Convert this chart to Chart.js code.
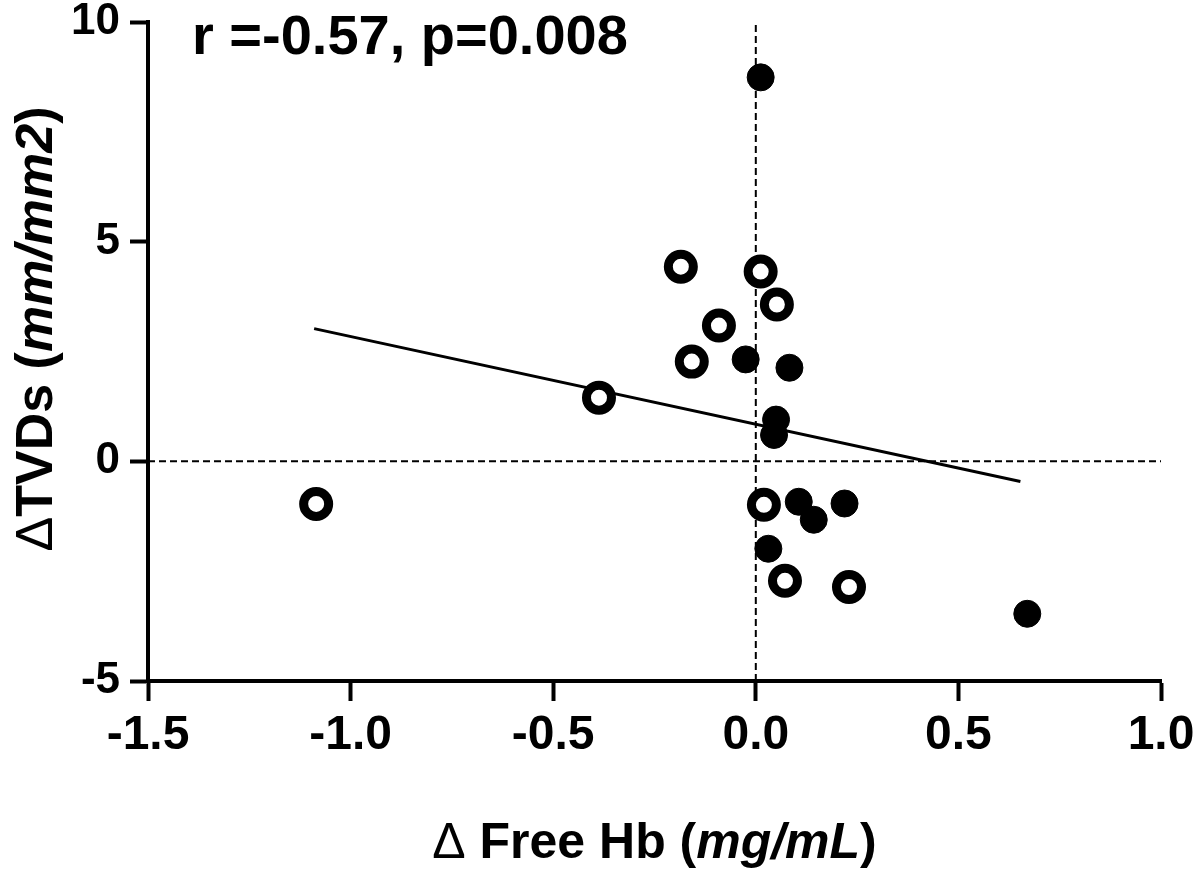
<!DOCTYPE html>
<html>
<head>
<meta charset="utf-8">
<script src="https://cdn.jsdelivr.net/npm/chart.js@4/dist/chart.umd.min.js"></script>
<style>
  body { margin: 0; background: #fff; }
  #wrap { width: 1200px; height: 873px; }
</style>
</head>
<body>
<div id="wrap"><canvas id="scatter" width="1200" height="873"></canvas></div>
<script>
// open circles
const openX = [-1.085, -0.387, -0.185, -0.158, -0.091, 0.012, 0.052, 0.02, 0.072, 0.23];
const openY = [-0.97, 1.45, 4.43, 2.27, 3.09, 4.32, 3.57, -0.99, -2.72, -2.86];
// filled circles
const filledX = [0.012, -0.025, 0.083, 0.05, 0.045, 0.106, 0.143, 0.219, 0.031, 0.67];
const filledY = [8.74, 2.32, 2.13, 0.95, 0.6, -0.92, -1.33, -0.96, -1.99, -3.47];
// regression line ends
const fitX = [-1.09, 0.653];
const fitY = [3.02, -0.46];

const xTicks = [-1.5, -1.0, -0.5, 0.0, 0.5, 1.0];
const yTicks = [-5, 0, 5, 10];
const statText = 'r =-0.57, p=0.008';

const toPts = (xs, ys) => xs.map((x, i) => ({ x: x, y: ys[i] }));

const fontName = '"Liberation Sans", Arial, sans-serif';

// texts with italic units, drawn on the canvas
const labelPlugin = {
    id: 'labels',
    afterDraw(chart) {
        const ctx = chart.ctx;
        const area = chart.chartArea;
        ctx.save();
        ctx.fillStyle = '#000';
        ctx.textBaseline = 'alphabetic';

        // stat text
        ctx.font = 'bold 56px ' + fontName;
        ctx.textAlign = 'left';
        ctx.fillText(statText, 192, 54);

        // x axis title
        const xParts = [
            ['Δ ', '50px '],
            ['Free Hb (', 'bold 50px '],
            ['mg/mL', 'italic bold 50px '],
            [')', 'bold 50px ']
        ];
        drawParts(ctx, xParts, (area.left + area.right) / 2, 858);

        // y axis title
        ctx.translate(52, 329);
        ctx.rotate(-Math.PI / 2);
        const yParts = [
            ['Δ', '52px '],
            ['TVDs (', 'bold 52px '],
            ['mm/mm2', 'italic bold 52px '],
            [')', 'bold 52px ']
        ];
        drawParts(ctx, yParts, 0, 0);
        ctx.restore();
    }
};

function drawParts(ctx, parts, cx, baseY) {
    let total = 0;
    parts.forEach(p => { ctx.font = p[1] + fontName; total += ctx.measureText(p[0]).width; });
    let x = cx - total / 2;
    ctx.textAlign = 'left';
    parts.forEach(p => {
        ctx.font = p[1] + fontName;
        ctx.fillText(p[0], x, baseY);
        x += ctx.measureText(p[0]).width;
    });
}

const ctx = document.getElementById('scatter').getContext('2d');

new Chart(ctx, {
    type: 'scatter',
    data: {
        datasets: [
            {
                label: 'filled',
                data: toPts(filledX, filledY),
                pointRadius: 13.5,
                pointBackgroundColor: '#000',
                pointBorderColor: '#000',
                pointBorderWidth: 1,
                clip: false
            },
            {
                label: 'open',
                data: toPts(openX, openY),
                pointRadius: 12.5,
                pointBackgroundColor: '#fff',
                pointBorderColor: '#000',
                pointBorderWidth: 9,
                clip: false
            },
            {
                label: 'fit',
                type: 'line',
                data: toPts(fitX, fitY),
                borderColor: '#000',
                borderWidth: 3,
                pointRadius: 0,
                fill: false
            },
            {
                label: 'x zero',
                type: 'line',
                data: [{ x: 0, y: yTicks[0] }, { x: 0, y: yTicks[yTicks.length - 1] }],
                borderColor: '#000',
                borderWidth: 2,
                borderDash: [7, 4],
                pointRadius: 0,
                fill: false
            },
            {
                label: 'y zero',
                type: 'line',
                data: [{ x: xTicks[0], y: 0 }, { x: xTicks[xTicks.length - 1], y: 0 }],
                borderColor: '#000',
                borderWidth: 2,
                borderDash: [7, 4],
                pointRadius: 0,
                fill: false
            }
        ]
    },
    options: {
        responsive: false,
        animation: false,
        layout: { padding: { top: 22, right: 39, left: 0, bottom: 0 } },
        plugins: {
            legend: { display: false },
            tooltip: { enabled: false }
        },
        scales: {
            x: {
                type: 'linear',
                min: xTicks[0],
                max: xTicks[xTicks.length - 1],
                afterBuildTicks: s => { s.ticks = xTicks.map(v => ({ value: v })); },
                afterFit: s => { s.height = 192; s.paddingLeft = 0; s.paddingRight = 0; },
                ticks: {
                    color: '#000',
                    padding: 6,
                    font: { family: fontName, size: 48, weight: 'bold' },
                    callback: v => v.toFixed(1)
                },
                grid: { drawOnChartArea: false, tickLength: 20, tickWidth: 4, color: '#000' },
                border: { width: 4, color: '#000' }
            },
            y: {
                type: 'linear',
                min: yTicks[0],
                max: yTicks[yTicks.length - 1],
                afterBuildTicks: s => { s.ticks = yTicks.map(v => ({ value: v })); },
                afterFit: s => { s.width = 148; s.paddingTop = 0; s.paddingBottom = 0; },
                ticks: {
                    color: '#000',
                    padding: 10,
                    font: { family: fontName, size: 44, weight: 'bold' },
                    callback: v => String(v)
                },
                grid: { drawOnChartArea: false, tickLength: 18, tickWidth: 4, color: '#000' },
                border: { width: 4, color: '#000' }
            }
        }
    },
    plugins: [labelPlugin]
});
</script>
</body>
</html>
